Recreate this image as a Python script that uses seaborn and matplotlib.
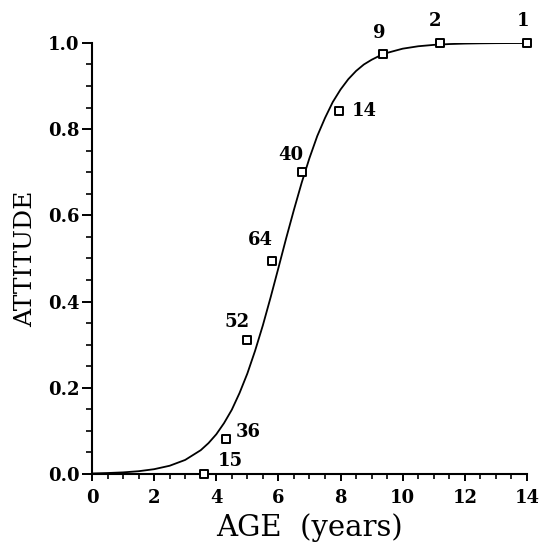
import numpy as np
import pandas as pd
import seaborn as sns
import matplotlib.pyplot as plt
from matplotlib.ticker import MultipleLocator

sns.set_style('ticks')
plt.rcParams['font.family'] = ['DejaVu Serif', 'DejaVu Sans']
plt.rcParams['text.color'] = 'black'
plt.rcParams['axes.labelcolor'] = 'black'
plt.rcParams['xtick.color'] = 'black'
plt.rcParams['ytick.color'] = 'black'
plt.rcParams['axes.edgecolor'] = 'black'

# observed points (age, attitude) and sample sizes
age = [3.6, 4.3, 5.0, 5.8, 6.77, 7.94, 9.38, 11.2, 14.0]
attitude = [0.0, 0.081, 0.31, 0.494, 0.70, 0.842, 0.975, 1.0, 1.0]
n_labels = ['15', '36', '52', '64', '40', '14', '9', '2', '1']

# fitted curve
curve_x = [0, 0.5, 1, 1.5, 2, 2.5, 3, 3.5, 3.75, 4, 4.25, 4.5, 4.75, 5, 5.25,
           5.5, 5.75, 6, 6.25, 6.5, 6.75, 7, 7.25, 7.5, 7.75, 8, 8.25, 8.5,
           8.75, 9, 9.25, 9.5, 10, 10.5, 11, 11.5, 12, 12.5, 13, 13.5, 14]
curve_y = [0.0012, 0.0022, 0.0037, 0.0064, 0.0111, 0.0191, 0.0326, 0.0552,
           0.0716, 0.092, 0.118, 0.149, 0.188, 0.233, 0.286, 0.345, 0.410,
           0.478, 0.547, 0.613, 0.676, 0.733, 0.784, 0.826, 0.863, 0.892,
           0.916, 0.935, 0.950, 0.961, 0.970, 0.977, 0.9867, 0.9923, 0.9955,
           0.9974, 0.9985, 0.9991, 0.9995, 0.9997, 0.9998]

# label offsets in pixels (dx, dy) and alignment
offsets = [(14, 13, 'left'), (10, 7, 'left'), (2, 18, 'right'), (1, 21, 'right'),
           (-12, 17, 'center'), (13, 0, 'left'), (-4, 21, 'center'),
           (-5, 22, 'center'), (-4, 22, 'center')]

pts = pd.DataFrame({'age': age, 'attitude': attitude})
curve = pd.DataFrame({'x': curve_x, 'y': curve_y})

fig = plt.figure(figsize=(5.43, 5.47), dpi=100)
ax = fig.add_axes([0.1694, 0.1335, 0.8011, 0.788])

sns.lineplot(data=curve, x='x', y='y', color='black', linewidth=1.3, ax=ax,
             zorder=2)
sns.scatterplot(data=pts, x='age', y='attitude', marker='s', s=36,
                facecolor='white', edgecolor='black', linewidth=1.4,
                ax=ax, zorder=3, clip_on=False)

for (xx, yy, lab), (dx, dy, ha) in zip(zip(age, attitude, n_labels), offsets):
    ax.annotate(lab, (xx, yy), xytext=(dx, dy), textcoords='offset pixels',
                ha=ha, va='center', fontsize=13, fontweight='bold')

ax.set_xlim(0, 14)
ax.set_ylim(0, 1.0)
ax.xaxis.set_major_locator(MultipleLocator(2))
ax.xaxis.set_minor_locator(MultipleLocator(0.5))
ax.yaxis.set_major_locator(MultipleLocator(0.2))
ax.yaxis.set_minor_locator(MultipleLocator(0.05))
ax.yaxis.set_major_formatter(plt.FormatStrFormatter('%.1f'))

ax.tick_params(axis='y', which='major', length=7, width=1.4, pad=2,
               labelsize=13)
ax.tick_params(axis='y', which='minor', length=4.5, width=1.2)
ax.tick_params(axis='x', which='major', length=5, width=1.4, pad=6,
               labelsize=13)
ax.tick_params(axis='x', which='minor', length=3.5, width=1.2)
for lab in ax.get_xticklabels() + ax.get_yticklabels():
    lab.set_fontweight('bold')

sns.despine(ax=ax)
for s in ['left', 'bottom']:
    ax.spines[s].set_linewidth(1.5)

ax.set_xlabel('AGE  (years)', fontsize=21, labelpad=4)
ax.set_ylabel('ATTITUDE', fontsize=18, labelpad=8)

fig.savefig('out.png', dpi=100)
